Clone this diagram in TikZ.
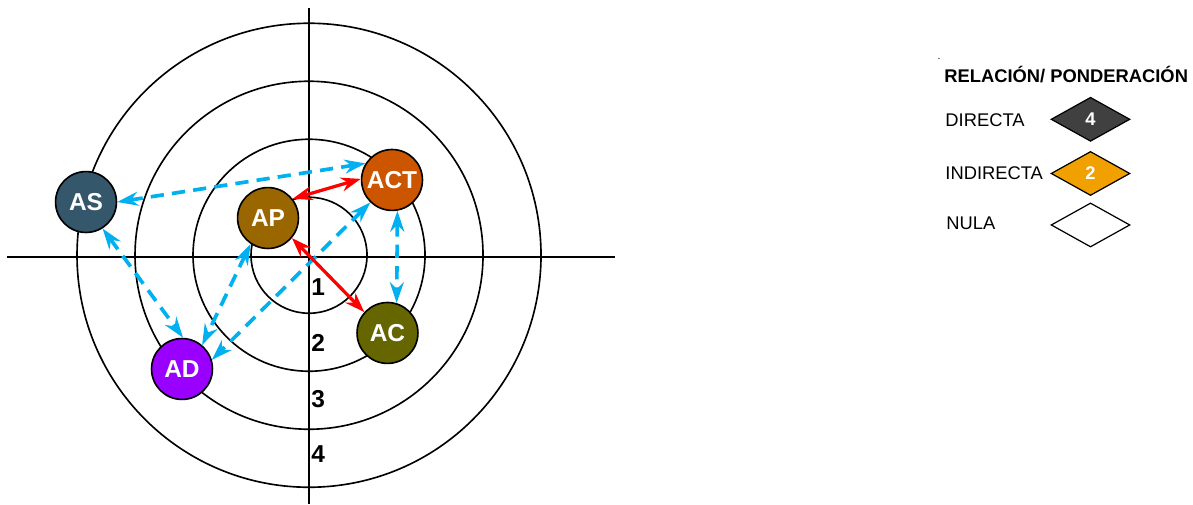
\documentclass[tikz,border=0pt]{standalone}
\usepackage{fontspec}
\setmainfont{Liberation Sans}
\usepackage{tikz}
\usetikzlibrary{arrows.meta,shapes.geometric}
\definecolor{azul}{HTML}{00B0F0}
\definecolor{rojo}{HTML}{FF0000}
\definecolor{pizarra}{HTML}{34576B}
\definecolor{marron}{HTML}{996600}
\definecolor{naranja}{HTML}{CC5500}
\definecolor{oliva}{HTML}{666600}
\definecolor{violeta}{HTML}{9900FF}
\definecolor{grisosc}{HTML}{404040}
\definecolor{ambar}{HTML}{F0A000}

\begin{document}
\begin{tikzpicture}[every node/.style={font=\fontsize{9}{11}\selectfont},
actor/.style={circle,draw=black,line width=0.8pt,fill=#1,minimum size=1.05cm,inner sep=0pt,text=white,font=\bfseries\fontsize{12}{14}\selectfont},
anillo/.style={line width=0.8pt},
indirecta/.style={azul,line width=1.8pt,dash pattern=on 6.5pt off 4pt,{Stealth[length=3.6mm,width=2.4mm]}-{Stealth[length=3.6mm,width=2.4mm]}},
directa/.style={rojo,line width=1.6pt,{Stealth[length=3.4mm,width=2.4mm]}-{Stealth[length=3.4mm,width=2.4mm]}},
rombo/.style={diamond,draw=black,line width=0.6pt,fill=#1,minimum width=1.36cm,minimum height=0.76cm,inner sep=0pt,text=white,font=\bfseries\fontsize{9}{11}\selectfont},
nivel/.style={anchor=west,inner sep=0pt,font=\bfseries\fontsize{12}{14}\selectfont}]
\useasboundingbox (-5.328,-4.259) rectangle (15.241,4.431);
% ejes y anillos
\draw[anillo] (0,4.29) -- (0,-4.259);
\draw[anillo] (-5.21,0) -- (5.28,0);
\foreach \r in {1,2,3,4}
  \draw[anillo] (0,0.03) circle (\r);
\node[nivel] (n1) at (0.034,-0.517) {1};
\node[nivel] (n2) at (0.034,-1.474) {2};
\node[nivel] (n3) at (0.034,-2.457) {3};
\node[nivel] (n4) at (0.034,-3.397) {4};
% actores
\node[actor=pizarra] (AS) at (-3.845,0.948) {AS};
\node[actor=marron] (AP) at (-0.707,0.672) {AP};
\node[actor=naranja] (ACT) at (1.431,1.328) {ACT};
\node[actor=oliva] (AC) at (1.353,-1.310) {AC};
\node[actor=violeta] (AD) at (-2.190,-1.931) {AD};
% relaciones
\draw[indirecta] (AS.0) -- (ACT.148);
\draw[indirecta] (AS.-58) -- (AD.88);
\draw[indirecta] (AP.236) -- (AD.50);
\draw[indirecta] (ACT.226) -- (AD.17);
\draw[indirecta] (ACT.-80) -- (AC.73);
\draw[directa] (AP.38) -- (ACT.178);
\draw[directa] (AP.-40) -- (AC.138);
% leyenda
\node[inner sep=0pt,font=\tiny] (punto) at (10.862,3.42) {.};
\node[anchor=west,inner sep=0pt,font=\bfseries\fontsize{9}{11}\selectfont] (titulo) at (10.948,3.138) {RELACIÓN/ PONDERACIÓN};
\node[anchor=west,inner sep=0pt] (ldir) at (10.966,2.362) {DIRECTA};
\node[anchor=west,inner sep=0pt] (lind) at (10.966,1.440) {INDIRECTA};
\node[anchor=west,inner sep=0pt] (lnul) at (10.983,0.578) {NULA};
\node[rombo=grisosc] (rdir) at (13.474,2.374) {4};
\node[rombo=ambar] (rind) at (13.474,1.440) {2};
\node[rombo=white] (rnul) at (13.474,0.552) {};
\end{tikzpicture}
\end{document}
